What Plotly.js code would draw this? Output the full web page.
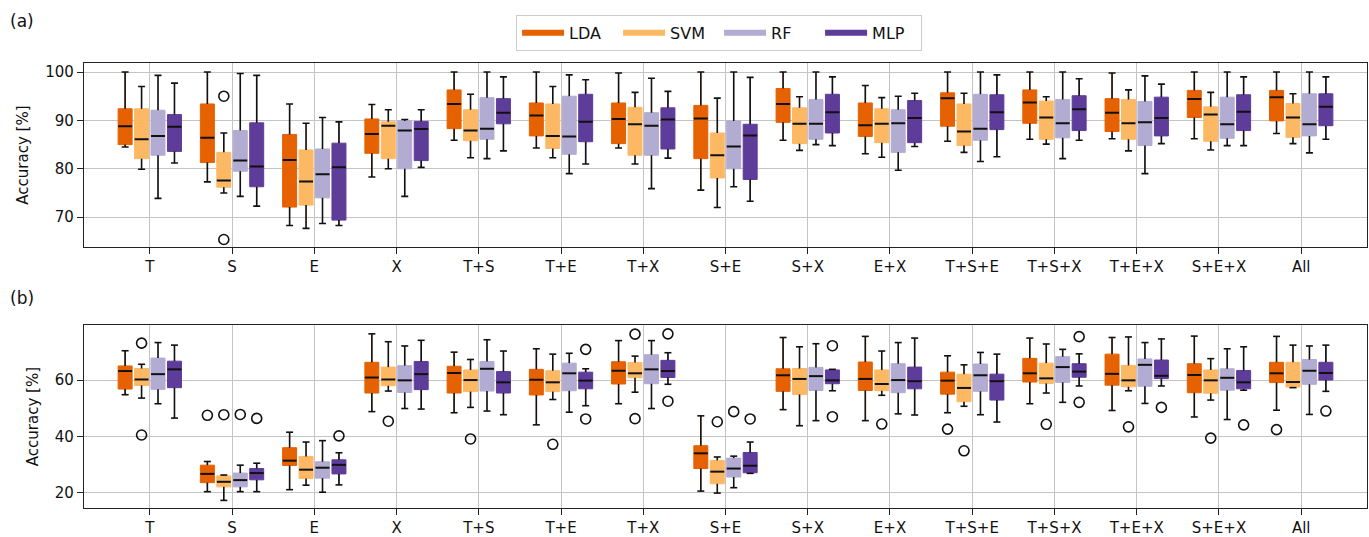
<!DOCTYPE html>
<html><head><meta charset="utf-8">
<script src="https://cdn.plot.ly/plotly-3.0.1.min.js"></script>
<style>html,body{margin:0;padding:0;background:#fff}#chart{width:1369px;height:537px}</style>
</head><body><div id="chart"></div>
<script>
const categories = ['T','S','E','X','T+S','T+E','T+X','S+E','S+X','E+X','T+S+E','T+S+X','T+E+X','S+E+X','All'];
const seriesNames = ['LDA','SVM','RF','MLP'];
const seriesColors = ['#e66101','#fdb863','#b2abd2','#5e3c99'];

// each entry: [lower whisker, Q1, median, Q3, upper whisker], one per category
// panel (a)
const accA_LDA = [[84.5,85.0,88.8,92.4,100],[77.3,81.3,86.4,93.4,100],[68.3,72.1,81.8,87.1,93.4],[78.3,83.2,87.2,90.3,93.3],[85.9,88.3,93.4,96.3,100],[84.3,86.8,91.0,93.6,100],[84.3,85.2,90.3,93.6,99.8],[75.6,82.1,90.4,93.1,100],[85.9,89.6,93.4,96.6,100],[83.1,86.7,89.0,93.6,97.2],[85.7,88.8,94.6,95.7,100],[86.1,89.4,93.7,96.3,100],[86.2,87.7,91.6,94.5,99.8],[86.2,90.6,94.4,96.2,100],[87.3,89.9,94.8,96.2,100]];
const accA_SVM = [[79.9,82.1,86.1,92.4,97.0],[75.0,76.2,77.6,83.4,87.4],[67.7,72.5,77.4,83.9,89.4],[80.0,82.1,88.9,89.7,92.2],[82.3,85.8,87.9,92.2,95.4],[82.3,84.2,86.8,93.4,97.0],[81.0,82.8,89.2,92.7,95.8],[72.0,78.1,82.8,87.4,94.6],[83.8,85.2,89.3,92.6,94.9],[82.4,85.4,89.3,92.4,94.7],[83.4,84.8,87.7,93.4,95.6],[85.1,86.1,90.6,94.0,94.9],[83.7,86.1,89.4,94.3,96.3],[83.9,85.7,91.2,92.8,95.8],[85.2,86.5,90.6,93.5,95.5]];
const accA_RF = [[73.9,82.8,86.8,92.1,99.3],[74.3,79.5,81.7,87.9,99.7],[68.7,74.0,78.9,84.1,90.6],[74.3,80.0,87.9,89.9,90.2],[82.1,86.1,88.3,94.7,100],[79.0,83.0,86.7,95.0,99.4],[75.9,82.8,88.9,91.6,98.7],[76.3,80.0,84.6,89.9,100],[85.0,86.1,89.3,94.3,100],[79.7,83.4,89.4,92.2,95.0],[81.5,85.9,88.3,95.4,100],[82.1,86.4,89.4,94.3,100],[79.0,84.8,89.6,93.9,99.2],[84.8,86.3,89.2,94.8,100],[83.3,86.8,89.2,95.5,100]];
const accA_MLP = [[81.2,83.6,88.7,91.2,97.7],[72.3,76.3,80.5,89.5,99.3],[68.3,69.4,80.3,85.3,89.7],[80.3,81.7,88.2,89.8,92.2],[83.7,89.3,91.6,94.5,99.0],[81.0,85.6,89.7,95.4,98.4],[82.2,84.1,90.2,92.6,96.0],[73.3,77.8,86.9,89.2,98.9],[84.8,87.4,91.7,95.4,99.0],[84.6,85.4,90.5,94.1,95.6],[82.5,88.1,91.7,95.3,99.4],[85.9,87.9,92.3,95.1,98.6],[85.2,86.8,90.5,94.8,97.5],[84.8,87.9,91.8,95.3,99.0],[86.1,88.9,92.8,95.5,99.0]];
const outA_LDA = [];
const outA_SVM = [['S',95.0],['S',65.4]];
const outA_RF = [];
const outA_MLP = [];

// panel (b)
const accB_LDA = [[54.8,56.8,63.2,65.0,70.4],[20.4,23.6,26.7,29.8,31.1],[21.1,29.7,31.4,36.0,41.5],[48.8,55.4,60.9,66.3,76.4],[48.4,55.4,62.5,64.9,69.9],[44.1,54.7,60.1,63.8,71.1],[51.6,58.6,63.3,66.5,74.0],[20.6,28.6,34.0,36.7,47.3],[49.5,56.0,61.7,64.0,75.1],[45.6,56.3,60.4,66.4,75.5],[48.4,55.0,59.8,62.8,68.6],[51.6,59.3,62.4,67.7,74.9],[49.2,58.2,62.2,69.2,75.1],[46.9,55.5,61.8,65.8,75.6],[49.3,59.1,62.4,66.3,75.5]];
const accB_SVM = [[53.6,58.1,60.2,64.1,65.6],[17.3,22.1,23.9,26.0,26.3],[22.7,25.1,28.2,32.9,38.0],[56.1,58.0,60.2,64.6,73.6],[50.3,55.9,60.0,63.6,67.3],[53.1,55.9,59.2,63.3,69.2],[55.7,60.8,62.4,66.2,68.5],[19.9,23.2,27.5,31.5,32.7],[43.8,54.9,60.4,64.1,71.8],[54.6,56.2,58.6,63.6,70.3],[50.7,52.3,57.2,62.1,65.4],[55.4,58.8,60.6,66.0,72.8],[56.2,57.6,59.9,65.2,75.3],[52.9,55.3,59.9,63.6,67.6],[57.3,57.5,59.3,66.3,72.4]];
const accB_RF = [[51.6,56.7,62.1,67.8,73.3],[20.4,22.1,24.5,27.0,29.8],[20.2,25.2,28.9,31.0,38.5],[49.9,55.6,59.9,65.1,72.1],[49.0,56.1,64.0,66.6,74.3],[48.6,56.2,62.4,66.0,69.5],[49.9,58.7,63.8,69.0,74.0],[21.8,25.6,28.6,32.3,33.0],[45.6,56.3,61.4,64.5,72.9],[48.0,55.5,60.0,65.8,73.3],[47.7,56.0,61.7,65.7,69.8],[52.1,59.2,64.6,68.3,70.9],[51.7,57.8,65.4,67.5,73.3],[46.0,56.4,60.8,64.0,71.1],[47.8,58.5,63.3,67.3,72.1]];
const accB_MLP = [[46.5,57.3,63.8,66.7,72.4],[20.4,24.6,27.0,28.6,30.5],[22.8,26.7,29.9,31.7,34.2],[49.7,56.6,62.1,66.6,74.1],[47.7,55.4,59.2,63.0,70.3],[50.9,56.9,59.8,62.8,64.0],[58.5,60.9,63.2,67.0,69.7],[26.9,27.1,29.6,34.3,38.0],[56.2,58.7,59.9,63.6,63.8],[47.6,56.9,59.6,64.6,74.9],[45.1,52.9,59.6,62.1,69.2],[57.9,61.0,63.0,65.8,69.3],[57.9,60.5,61.5,67.1,74.6],[56.4,56.9,59.2,63.4,71.8],[56.0,60.0,62.5,66.3,72.4]];
const outB_LDA = [['S',47.5],['T+S+E',42.6],['All',42.4]];
const outB_SVM = [['T',73.1],['T',40.5],['S',47.7],['X',45.4],['T+S',39.1],['T+E',37.2],['T+X',76.3],['T+X',46.3],['S+E',45.2],['E+X',44.4],['T+S+E',34.9],['T+S+X',44.3],['T+E+X',43.4],['S+E+X',39.4]];
const outB_RF = [['S',47.8],['S+E',48.8]];
const outB_MLP = [['S',46.4],['E',40.2],['T+E',70.9],['T+E',46.2],['T+X',76.4],['T+X',52.5],['S+E',46.2],['S+X',72.2],['S+X',47.0],['T+S+X',75.4],['T+S+X',52.1],['T+E+X',50.3],['S+E+X',44.1],['All',49.0]];

const offsets = [-0.3, -0.1, 0.1, 0.3];
const boxW = 0.17;

function panelTraces(statsList, outList, xa, ya) {
  const traces = [];
  statsList.forEach((stats, s) => {
    const col = seriesColors[s];
    const xs = stats.map((_, i) => i + offsets[s]);
    traces.push({
      type: 'box', orientation: 'v', x: xs,
      lowerfence: stats.map(d => d[0]), q1: stats.map(d => d[1]), median: stats.map(d => d[2]),
      q3: stats.map(d => d[3]), upperfence: stats.map(d => d[4]),
      width: boxW, fillcolor: col, line: {color: col, width: 1}, whiskerwidth: 0,
      boxpoints: false, hoverinfo: 'skip', showlegend: false, xaxis: xa, yaxis: ya
    });
    const wx = [], wy = [];
    const h = boxW / 4;
    stats.forEach((d, i) => {
      const c = xs[i];
      wx.push(c, c, null, c, c, null, c - h, c + h, null, c - h, c + h, null);
      wy.push(d[0], d[1], null, d[3], d[4], null, d[0], d[0], null, d[4], d[4], null);
    });
    traces.push({type: 'scatter', mode: 'lines', x: wx, y: wy, line: {color: '#111', width: 1.6},
      hoverinfo: 'skip', showlegend: false, xaxis: xa, yaxis: ya});
    const mx = [], my = [];
    stats.forEach((d, i) => {
      const c = xs[i];
      mx.push(c - boxW / 2, c + boxW / 2, null);
      my.push(d[2], d[2], null);
    });
    traces.push({type: 'scatter', mode: 'lines', x: mx, y: my, line: {color: '#111', width: 2},
      hoverinfo: 'skip', showlegend: false, xaxis: xa, yaxis: ya});
    const outs = outList[s];
    if (outs.length) {
      traces.push({type: 'scatter', mode: 'markers',
        x: outs.map(o => categories.indexOf(o[0]) + offsets[s]), y: outs.map(o => o[1]),
        marker: {symbol: 'circle-open', size: 10, color: '#111', line: {width: 1.6, color: '#111'}},
        hoverinfo: 'skip', showlegend: false, xaxis: xa, yaxis: ya});
    }
  });
  return traces;
}

let data = [];
data = data.concat(panelTraces([accA_LDA, accA_SVM, accA_RF, accA_MLP], [outA_LDA, outA_SVM, outA_RF, outA_MLP], 'x', 'y'));
data = data.concat(panelTraces([accB_LDA, accB_SVM, accB_RF, accB_MLP], [outB_LDA, outB_SVM, outB_RF, outB_MLP], 'x2', 'y2'));
seriesNames.forEach((n, s) => {
  data.push({type: 'scatter', mode: 'lines', name: n, x: [null], y: [null],
    line: {color: seriesColors[s], width: 6}, xaxis: 'x', yaxis: 'y', showlegend: true});
});

const gridCol = '#c4c4c4';
const axisCommon = {
  showgrid: true, gridcolor: gridCol, gridwidth: 1.2, zeroline: false,
  showline: true, mirror: true, linecolor: '#222', linewidth: 1.3,
  ticks: 'outside', ticklen: 6, tickwidth: 1.2, tickcolor: '#222',
  tickfont: {family: 'DejaVu Sans', size: 15, color: '#111'}
};
const xCommon = Object.assign({}, axisCommon, {
  range: [-0.8, 14.8], tickmode: 'array',
  tickvals: categories.map((_, i) => i), ticktext: categories
});

const layout = {
  width: 1369, height: 537,
  margin: {l: 84, r: 2, t: 63, b: 29},
  paper_bgcolor: '#fff', plot_bgcolor: '#fff',
  font: {family: 'DejaVu Sans', size: 15, color: '#111'},
  showlegend: true,
  legend: {orientation: 'h', x: 0.495, xanchor: 'center', y: 1.108, yanchor: 'top',
    bordercolor: '#cccccc', borderwidth: 1, bgcolor: '#fff', font: {size: 16, family: 'DejaVu Sans'},
    itemwidth: 42, entrywidth: 44, entrywidthmode: 'pixels'},
  xaxis: Object.assign({}, xCommon, {anchor: 'y', domain: [0, 1]}),
  yaxis: Object.assign({}, axisCommon, {anchor: 'x', domain: [0.586, 1], range: [63.8, 101.86],
    tickmode: 'array', tickvals: [70, 80, 90, 100],
    title: {text: 'Accuracy [%]', font: {size: 15, family: 'DejaVu Sans'}, standoff: 12}}),
  xaxis2: Object.assign({}, xCommon, {anchor: 'y2', domain: [0, 1]}),
  yaxis2: Object.assign({}, axisCommon, {anchor: 'x2', domain: [0, 0.411], range: [14.6, 79.5],
    tickmode: 'array', tickvals: [20, 40, 60],
    title: {text: 'Accuracy [%]', font: {size: 15, family: 'DejaVu Sans'}, standoff: 12}}),
  annotations: [
    {text: '(a)', xref: 'paper', yref: 'paper', x: -0.059, y: 1.094, xanchor: 'left', yanchor: 'middle',
      showarrow: false, font: {size: 17, family: 'DejaVu Sans', color: '#111'}},
    {text: '(b)', xref: 'paper', yref: 'paper', x: -0.059, y: 0.472, xanchor: 'left', yanchor: 'middle',
      showarrow: false, font: {size: 17, family: 'DejaVu Sans', color: '#111'}}
  ]
};

Plotly.newPlot('chart', data, layout, {displayModeBar: false, responsive: false});
</script>
</body></html>
